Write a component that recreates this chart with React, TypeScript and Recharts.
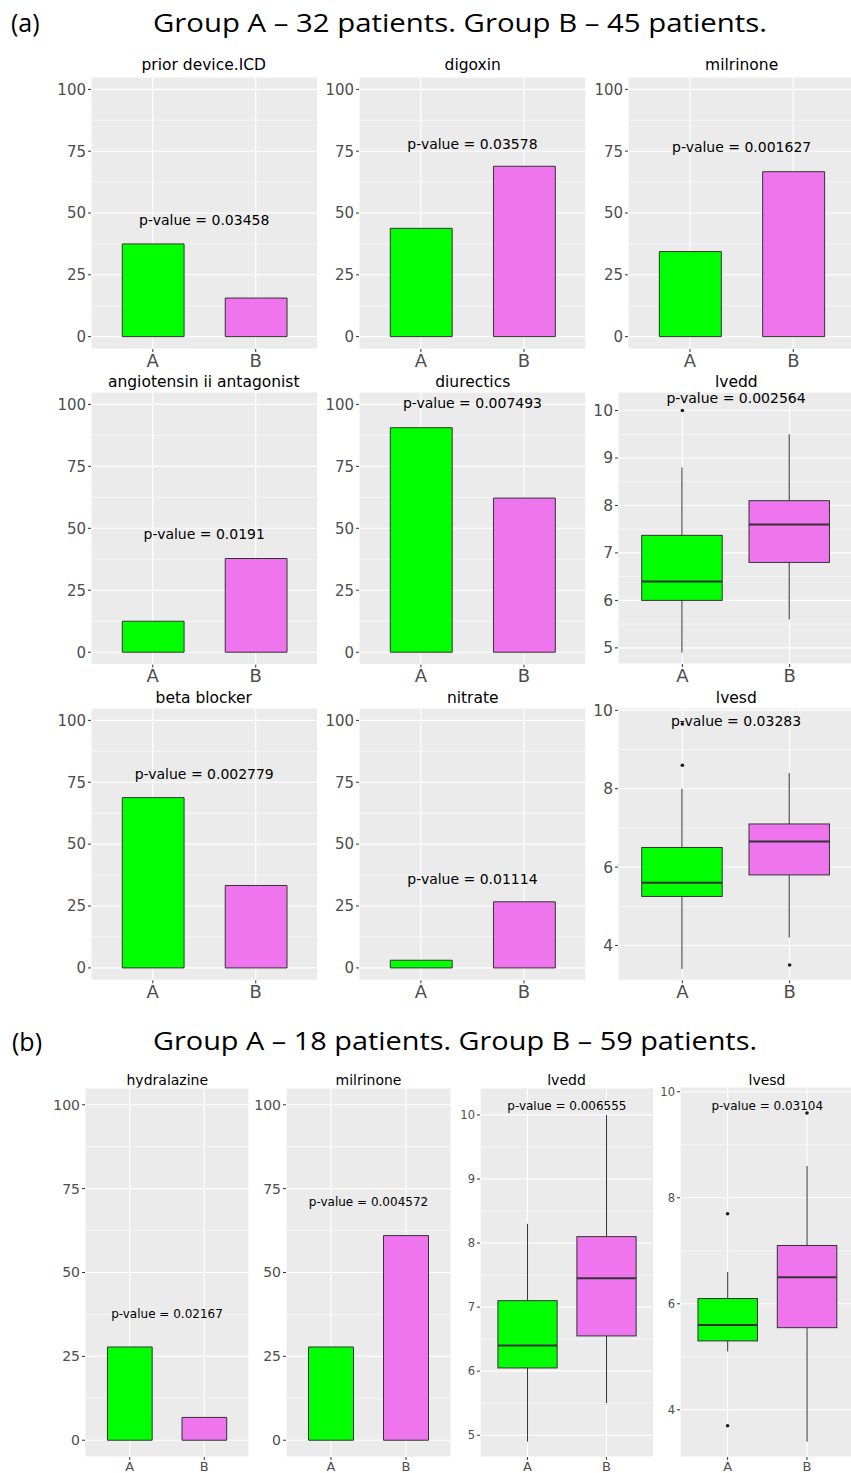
import React from "react";
import {
  ComposedChart,
  Bar,
  Line,
  XAxis,
  YAxis,
  CartesianGrid,
  ReferenceLine,
  Cell,
} from "recharts";

const groups = ["A", "B"];
const groupFill = ["#00FF00", "#EF75EE"];

// (a) % of patients, group A / group B
const priorDeviceIcd = [37.5, 15.6];
const digoxin = [43.8, 68.9];
const milrinoneA = [34.4, 66.7];
const angiotensin = [12.5, 37.8];
const diurectics = [90.6, 62.2];
const betaBlocker = [68.8, 33.3];
const nitrate = [3.1, 26.7];

// (b) % of patients, group A / group B
const hydralazine = [27.8, 6.8];
const milrinoneB = [27.8, 61.0];

// box stats: [lower whisker, q1, median, q3, upper whisker]
const lveddStatsA = [[4.9, 6.0, 6.4, 7.37, 8.8], [5.6, 6.8, 7.6, 8.1, 9.5]];
const lveddOutA = [[10.0], []];
const lvesdStatsA = [[3.4, 5.25, 5.6, 6.5, 8.0], [4.2, 5.8, 6.65, 7.1, 8.4]];
const lvesdOutA = [[8.6, 9.65], [3.5]];
const lveddStatsB = [[4.9, 6.05, 6.4, 7.1, 8.3], [5.5, 6.55, 7.45, 8.1, 10.0]];
const lveddOutB = [[], []];
const lvesdStatsB = [[5.1, 5.3, 5.6, 6.1, 6.6], [3.4, 5.55, 6.5, 7.1, 8.6]];
const lvesdOutB = [[7.7, 3.7], [9.6]];

const barTicks = [0, 25, 50, 75, 100];
const barMinor = [12.5, 37.5, 62.5, 87.5];
const lveddTicks = [5, 6, 7, 8, 9, 10];
const lveddMinor = [5.5, 6.5, 7.5, 8.5, 9.5];
const lvesdTicks = [4, 6, 8, 10];
const lvesdMinor = [5, 7, 9];

const FONT = "'DejaVu Sans', 'Liberation Sans', sans-serif";
const YW = 60;
const XH = 30;
const MT = 20;

type Panel = {
  title: string;
  left: number;
  top: number;
  width: number;
  height: number;
  titleY: number;
  domain: [number, number];
  ticks: number[];
  minor: number[];
  pValue: string;
  pY: number;
  values?: number[];
  stats?: number[][];
  outliers?: number[][];
  fs: { title: number; tick: number; cat: number; p: number };
};

const fsA = { title: 15.5, tick: 15, cat: 18, p: 14 };
const fsBox = { title: 15.5, tick: 15.5, cat: 18, p: 14 };
const fsB = { title: 14, tick: 14, cat: 13, p: 12 };
const fsBBox = { title: 14, tick: 11.5, cat: 13, p: 12 };

const panels: Panel[] = [
  { title: "prior device.ICD", left: 90.5, top: 77, width: 226.5, height: 272, titleY: 65, domain: [-5, 105], ticks: barTicks, minor: barMinor, pValue: "0.03458", pY: 47.2, values: priorDeviceIcd, fs: fsA },
  { title: "digoxin", left: 359.3, top: 77, width: 226.9, height: 272, titleY: 65, domain: [-5, 105], ticks: barTicks, minor: barMinor, pValue: "0.03578", pY: 78, values: digoxin, fs: fsA },
  { title: "milrinone", left: 628, top: 77, width: 227.3, height: 272, titleY: 65, domain: [-5, 105], ticks: barTicks, minor: barMinor, pValue: "0.001627", pY: 76.5, values: milrinoneA, fs: fsA },
  { title: "angiotensin ii antagonist", left: 90.5, top: 391.7, width: 226.5, height: 272.6, titleY: 381.7, domain: [-5, 105], ticks: barTicks, minor: barMinor, pValue: "0.0191", pY: 47.5, values: angiotensin, fs: fsA },
  { title: "diurectics", left: 359.3, top: 391.7, width: 226.9, height: 272.6, titleY: 381.7, domain: [-5, 105], ticks: barTicks, minor: barMinor, pValue: "0.007493", pY: 100.4, values: diurectics, fs: fsA },
  { title: "lvedd", left: 618.3, top: 392, width: 236, height: 272, titleY: 381.7, domain: [4.66, 10.39], ticks: lveddTicks, minor: lveddMinor, pValue: "0.002564", pY: 10.27, stats: lveddStatsA, outliers: lveddOutA, fs: fsBox },
  { title: "beta blocker", left: 90.5, top: 707.7, width: 226.5, height: 272.3, titleY: 697.7, domain: [-5, 105], ticks: barTicks, minor: barMinor, pValue: "0.002779", pY: 78.5, values: betaBlocker, fs: fsA },
  { title: "nitrate", left: 359.3, top: 707.7, width: 226.9, height: 272.3, titleY: 697.7, domain: [-5, 105], ticks: barTicks, minor: barMinor, pValue: "0.01114", pY: 36, values: nitrate, fs: fsA },
  { title: "lvesd", left: 618.3, top: 707.7, width: 236, height: 272.3, titleY: 697.7, domain: [3.11, 10.06], ticks: lvesdTicks, minor: lvesdMinor, pValue: "0.03283", pY: 9.73, stats: lvesdStatsA, outliers: lvesdOutA, fs: fsBox },
  { title: "hydralazine", left: 85.3, top: 1088, width: 164, height: 369, titleY: 1080, domain: [-5, 105], ticks: barTicks, minor: barMinor, pValue: "0.02167", pY: 37.6, values: hydralazine, fs: fsB },
  { title: "milrinone", left: 286, top: 1088, width: 165, height: 369, titleY: 1080, domain: [-5, 105], ticks: barTicks, minor: barMinor, pValue: "0.004572", pY: 71, values: milrinoneB, fs: fsB },
  { title: "lvedd", left: 479.6, top: 1088, width: 173.8, height: 369, titleY: 1080, domain: [4.66, 10.42], ticks: lveddTicks, minor: lveddMinor, pValue: "0.006555", pY: 10.14, stats: lveddStatsB, outliers: lveddOutB, fs: fsBBox },
  { title: "lvesd", left: 679.7, top: 1087, width: 174.6, height: 370, titleY: 1080, domain: [3.11, 10.09], ticks: lvesdTicks, minor: lvesdMinor, pValue: "0.03104", pY: 9.73, stats: lvesdStatsB, outliers: lvesdOutB, fs: fsBBox },
];

// draws whisker, box and median inside the pixel span the library gives for [lo, hi]
const BoxShape = (props: any) => {
  const { x, y, width, height, payload } = props;
  const [lo, q1, med, q3, hi] = payload.stats;
  const top = Math.min(y, y + height);
  const h = Math.abs(height);
  const py = (v: number) => top + ((hi - v) / (hi - lo)) * h;
  const cx = x + width / 2;
  return (
    <g>
      <line x1={cx} x2={cx} y1={py(hi)} y2={py(lo)} stroke="#333333" strokeWidth={1} />
      <rect x={x} y={py(q3)} width={width} height={py(q1) - py(q3)} fill={payload.fill} stroke="#333333" strokeWidth={1} />
      <line x1={x} x2={x + width} y1={py(med)} y2={py(med)} stroke="#333333" strokeWidth={2} />
    </g>
  );
};

function PanelChart({ p }: { p: Panel }) {
  const unit = p.width / 2.2;
  const isBox = !!p.stats;
  const data = groups.map((g, i) => {
    if (isBox) {
      const s = p.stats![i];
      const out = p.outliers![i];
      return { g, range: [s[0], s[4]], stats: s, fill: groupFill[i], out1: out[0] ?? null, out2: out[1] ?? null };
    }
    return { g, v: p.values![i] };
  });
  const tickStyle = { fill: "#4D4D4D", fontSize: p.fs.tick, fontFamily: FONT };
  return (
    <>
      <div
        style={{
          position: "absolute",
          left: p.left,
          top: p.titleY - 10,
          width: p.width,
          height: 20,
          lineHeight: "20px",
          textAlign: "center",
          fontFamily: FONT,
          fontSize: p.fs.title,
          color: "#000",
          whiteSpace: "nowrap",
        }}
      >
        {p.title}
      </div>
      <div style={{ position: "absolute", left: p.left - YW, top: p.top - MT }}>
        <ComposedChart
          width={YW + p.width}
          height={p.height + XH + MT}
          data={data}
          margin={{ top: MT, right: 0, bottom: 0, left: 0 }}
        >
          <CartesianGrid
            fill="#EBEBEB"
            stroke="#FFFFFF"
            strokeWidth={0.55}
            vertical={false}
            horizontalValues={p.minor}
          />
          <CartesianGrid stroke="#FFFFFF" strokeWidth={1.1} />
          <XAxis
            dataKey="g"
            padding={{ left: unit * 0.1, right: unit * 0.1 }}
            axisLine={false}
            tickSize={3}
            tickLine={{ stroke: "#333333" }}
            tick={{ ...tickStyle, fontSize: p.fs.cat }}
            height={XH}
            interval={0}
          />
          <YAxis
            type="number"
            domain={p.domain}
            ticks={p.ticks}
            allowDataOverflow
            width={YW}
            axisLine={false}
            tickSize={3}
            tickLine={{ stroke: "#333333" }}
            tick={tickStyle}
            interval={0}
          />
          {isBox ? (
            <Bar dataKey="range" barSize={unit * 0.75} shape={BoxShape} isAnimationActive={false} />
          ) : (
            <Bar dataKey="v" barSize={unit * 0.6} stroke="#333333" strokeWidth={1} isAnimationActive={false}>
              {data.map((d, i) => (
                <Cell key={d.g} fill={groupFill[i]} />
              ))}
            </Bar>
          )}
          {isBox && (
            <Line dataKey="out1" stroke="none" dot={{ r: 1.8, fill: "#1A1A1A", stroke: "none" }} activeDot={false} isAnimationActive={false} />
          )}
          {isBox && (
            <Line dataKey="out2" stroke="none" dot={{ r: 1.8, fill: "#1A1A1A", stroke: "none" }} activeDot={false} isAnimationActive={false} />
          )}
          <ReferenceLine
            y={p.pY}
            stroke="none"
            label={{ value: `p-value = ${p.pValue}`, position: "center", fill: "#000", fontSize: p.fs.p, fontFamily: FONT }}
          />
        </ComposedChart>
      </div>
    </>
  );
}

export default function App() {
  return (
    <div
      style={{
        position: "absolute",
        left: 0,
        top: 0,
        width: 851,
        height: 1473,
        overflow: "hidden",
        background: "#FFFFFF",
      }}
    >
      <svg width={851} height={1473} style={{ position: "absolute", left: 0, top: 0 }}>
        <g fontFamily="'Open Sans', Lato, sans-serif" fontSize={25} fill="#000">
          <text x={11} y={32}>(a)</text>
          <text x={153} y={32} textLength={614} lengthAdjust="spacingAndGlyphs">
            Group A – 32 patients. Group B – 45 patients.
          </text>
          <text x={12} y={1051}>(b)</text>
          <text x={153} y={1050} textLength={604} lengthAdjust="spacingAndGlyphs">
            Group A – 18 patients. Group B – 59 patients.
          </text>
        </g>
      </svg>
      {panels.map((p, i) => (
        <PanelChart key={i} p={p} />
      ))}
    </div>
  );
}
